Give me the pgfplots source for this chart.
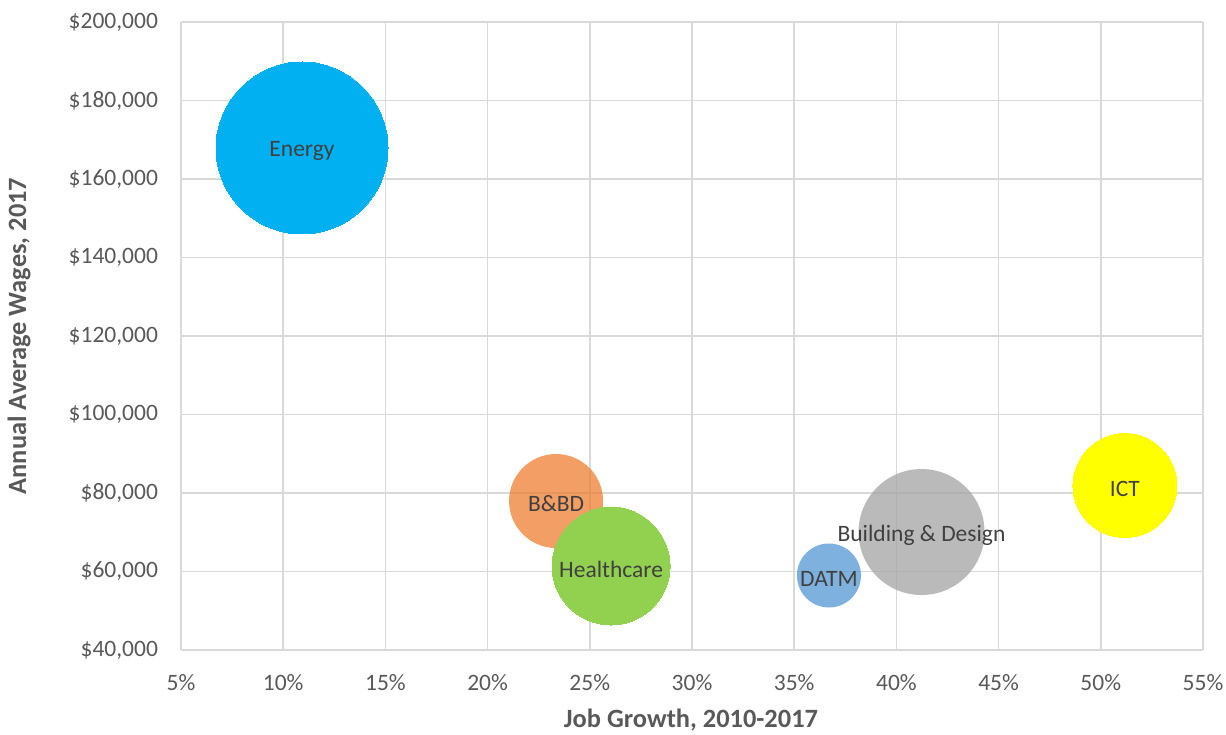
\documentclass[border=0pt]{standalone}
\usepackage{pgfplots}
\pgfplotsset{compat=1.18}
\usepackage{fontspec}
\setmainfont{Carlito}
\definecolor{gridc}{HTML}{D9D9D9}
\definecolor{tickc}{HTML}{595959}
\definecolor{labc}{HTML}{404040}
\definecolor{cEnergy}{HTML}{00B0F0}
\definecolor{cBBD}{HTML}{ED7D31}
\definecolor{cHealth}{HTML}{92D050}
\definecolor{cDATM}{HTML}{5B9BD5}
\definecolor{cBD}{HTML}{A5A5A5}
\definecolor{cICT}{HTML}{FFFF00}
\begin{document}
\begin{tikzpicture}
\useasboundingbox (-90.5pt,-42pt) rectangle (522.5pt,325pt);
\begin{axis}[
  at={(0pt,0pt)}, anchor=south west,
  scale only axis, width=511pt, height=314pt,
  xmin=5, xmax=55, ymin=40000, ymax=200000,
  xtick={5,10,...,55},
  xticklabels={5\%,10\%,15\%,20\%,25\%,30\%,35\%,40\%,45\%,50\%,55\%},
  ytick={40000,60000,...,200000},
  yticklabels={{\$40,000},{\$60,000},{\$80,000},{\$100,000},{\$120,000},{\$140,000},{\$160,000},{\$180,000},{\$200,000}},
  scaled y ticks=false,
  tick style={draw=none},
  grid=major,
  major grid style={draw=gridc, line width=0.8pt},
  axis line style={draw=gridc, line width=0.8pt},
  axis x line*=bottom, axis y line*=left,
  axis line style={-},
  ticklabel style={font=\fontsize{11.75pt}{13pt}\selectfont, text=tickc},
  yticklabel style={xshift=-8pt},
  xticklabel style={yshift=-8.5pt},
  xlabel={Job Growth, 2010-2017},
  ylabel={Annual Average Wages, 2017},
  xlabel style={at={(axis description cs:0.499,-0.1115)}, anchor=center, font=\fontsize{13.2pt}{15pt}\selectfont\bfseries, text=tickc},
  ylabel style={at={(axis description cs:-0.1585,0.5)}, anchor=center, rotate=0, font=\fontsize{13.2pt}{15pt}\selectfont\bfseries, text=tickc},
  clip=false,
  point meta=explicit symbolic,
  nodes near coords,
  every node near coord/.style={anchor=center, yshift=-1.5pt, text=labc, opacity=1, text opacity=1, fill opacity=1, font=\fontsize{11.75pt}{13pt}\selectfont},
  only marks, mark=*,
]
\addplot[color=cEnergy, mark size=43pt, mark options={line width=0pt, fill=cEnergy}] coordinates {(10.92,167900) [Energy]};
\addplot[color=cBBD, mark size=23.5pt, mark options={line width=0pt, draw opacity=0, fill=cBBD, fill opacity=0.75}] coordinates {(23.35,77960) [B\&BD]};
\addplot[color=cHealth, mark size=29.5pt, mark options={line width=0pt, fill=cHealth}] coordinates {(26.04,61400) [Healthcare]};
\addplot[color=cDATM, mark size=16pt, mark options={line width=0pt, draw opacity=0, fill=cDATM, fill opacity=0.78}] coordinates {(36.70,58980) [DATM]};
\addplot[color=cBD, mark size=31.5pt, mark options={line width=0pt, draw opacity=0, fill=cBD, fill opacity=0.77}] coordinates {(41.23,70060) [Building \& Design]};
\addplot[color=cICT, mark size=26pt, mark options={line width=0pt, fill=cICT}] coordinates {(51.18,81910) [ICT]};
\end{axis}
\end{tikzpicture}
\end{document}
